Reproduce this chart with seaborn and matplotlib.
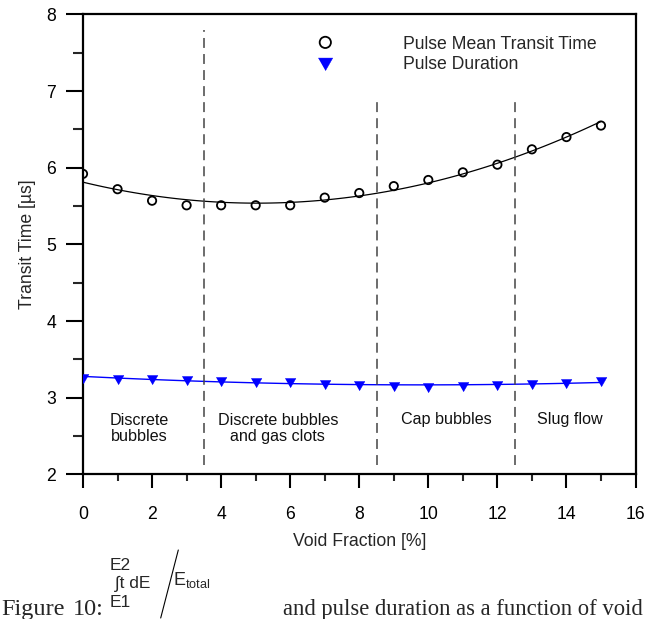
import numpy as np
import pandas as pd
import matplotlib
matplotlib.use("Agg")
import matplotlib.pyplot as plt
import seaborn as sns
from matplotlib.ticker import MultipleLocator
from matplotlib.lines import Line2D

# ---------------- data ----------------
void_fraction = [0, 1, 2, 3, 4, 5, 6, 7, 8, 9, 10, 11, 12, 13, 14, 15]
mean_transit = [5.92, 5.72, 5.57, 5.51, 5.51, 5.51, 5.51, 5.61, 5.67, 5.76,
                5.84, 5.94, 6.04, 6.24, 6.40, 6.55]
pulse_duration = [3.26, 3.25, 3.24, 3.235, 3.22, 3.21, 3.20, 3.18, 3.17, 3.155,
                  3.145, 3.155, 3.16, 3.185, 3.195, 3.215]
series_labels = ["Pulse Mean Transit Time", "Pulse Duration"]
regime_bounds = [3.5, 8.5, 12.5]
regime_labels = ["Discrete\nbubbles", "Discrete bubbles\nand gas clots",
                 "Cap bubbles", "Slug flow"]
x_label = "Void Fraction [%]"
y_label = "Transit Time [µs]"

df = pd.DataFrame({"vf": void_fraction, "mtt": mean_transit, "pd": pulse_duration})

# ---------------- style ----------------
sns.set_style("ticks")
plt.rcParams["font.family"] = ["Liberation Sans", "DejaVu Sans"]

W, H = 662, 619
fig = plt.figure(figsize=(W / 100, H / 100), dpi=100)
ax = fig.add_axes([83 / W, 1 - 474.4 / H, 552.5 / W, 460 / H])

BLUE = "#0000ff"

# fitted curves
sns.regplot(data=df, x="vf", y="mtt", order=2, ci=None, scatter=False,
            line_kws=dict(color="black", lw=0.9), ax=ax)
sns.regplot(data=df, x="vf", y="pd", order=2, ci=None, scatter=False,
            line_kws=dict(color=BLUE, lw=1.0), ax=ax)

# points
sns.scatterplot(data=df, x="vf", y="mtt", marker="o", s=36,
                facecolors="none", edgecolors="black", linewidth=1.3,
                ax=ax, zorder=3)
tri = [(-1, 0.75), (1, 0.75), (0, -1.0)]
sns.scatterplot(data=df, x="vf", y="pd", marker=tri, s=60,
                color=BLUE, edgecolor=BLUE, linewidth=0.3, ax=ax, zorder=3)

# regime boundaries (the two right ones stop below the legend)
bound_top = [0.967, 0.818, 0.818]
for xb, yt in zip(regime_bounds, bound_top):
    ax.axvline(xb, ymin=0.0205, ymax=yt, color="#444444", lw=1.1,
               dashes=(6.5, 4.0))

label_pos = [(1.63, 2.60), (5.64, 2.60), (10.53, 2.716), (14.09, 2.716)]
for lab, (lx, ly) in zip(regime_labels, label_pos):
    ax.text(lx, ly, lab, ha="center", va="center", fontsize=11.6,
            linespacing=1.05, color="#111111")

# axes formatting
ax.set_xlim(0, 16)
ax.set_ylim(2, 8)
ax.xaxis.set_major_locator(MultipleLocator(2))
ax.xaxis.set_minor_locator(MultipleLocator(1))
ax.yaxis.set_major_locator(MultipleLocator(1))
ax.yaxis.set_minor_locator(MultipleLocator(0.5))
ax.tick_params(axis="x", which="major", direction="out", length=10, width=1.5,
               pad=12.5, labelsize=12.7, colors="black")
ax.tick_params(axis="x", which="minor", direction="out", length=5.3, width=1.5)
ax.tick_params(axis="y", which="major", direction="out", length=12.5, width=1.5,
               pad=7, labelsize=12.7, colors="black")
ax.tick_params(axis="y", which="minor", direction="out", length=7.4, width=1.5)
ax.tick_params(top=False, right=False, which="both")
for sp in ax.spines.values():
    sp.set_visible(True)
    sp.set_linewidth(1.6)
    sp.set_color("black")
ax.set_xlabel(x_label, fontsize=12.7, labelpad=7.5)
ax.set_ylabel(y_label, fontsize=12.7, labelpad=7)

# legend
handles = [ax.collections[0], ax.collections[1]]
ax.legend(handles=handles, labels=series_labels, loc="upper left",
          bbox_to_anchor=(0.4226, 0.954), frameon=False, fontsize=12.7,
          borderpad=0, borderaxespad=0, handlelength=1.0,
          handletextpad=3.9, labelspacing=0.21, markerscale=1.35,
          scatteryoffsets=[0.5])

# ---------------- caption below the chart ----------------
def P(x, y):
    return x / W, 1 - y / H

serif = ["Liberation Serif", "DejaVu Serif"]
fig.text(*P(65, 615), "Figure", ha="right", va="baseline",
         fontsize=17.5, family=serif)
fig.text(*P(104, 615), "10:", ha="right", va="baseline",
         fontsize=17.5, family=serif)
fig.text(*P(643, 615), "and pulse duration as a function of void",
         ha="right", va="baseline", fontsize=16.3, family=serif)
# integral expression: E2 / ∫t dE / E1 stacked, divided by E_total
fig.text(*P(110, 607), "E2\n ∫t dE\nE1", fontsize=12.5, va="baseline",
         ha="left", linespacing=1.25, multialignment="left")
fig.text(*P(172.5, 585.5), r"E$_{\mathregular{total}}$", fontsize=13,
         va="baseline")
x0, y0 = P(178.3, 550)
x1, y1 = P(160.7, 618)
fig.add_artist(Line2D([x0, x1], [y0, y1], transform=fig.transFigure,
                      color="black", lw=0.8))

fig.savefig("out.png", dpi=100)
